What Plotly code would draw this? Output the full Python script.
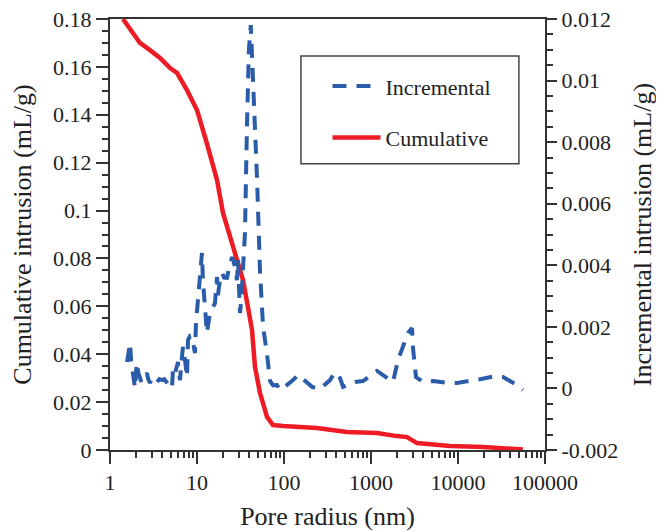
import plotly.graph_objects as go

# Cumulative intrusion (left axis)
cum_x = [1.41, 1.84, 2.21, 2.88, 3.76, 4.9, 5.89, 7.67, 10.0, 13.0, 17.0, 19.9, 25.9, 33.8,
         38.5, 42.9, 46.4, 53.0, 63.8, 74.8, 97.5, 239, 530, 1172, 1990, 2594, 3380, 4400,
         8090, 19370, 55800]
cum_y = [0.180, 0.1741, 0.170, 0.167, 0.1637, 0.1595, 0.1575, 0.1503, 0.142, 0.128, 0.1127,
         0.099, 0.0848, 0.071, 0.0597, 0.0501, 0.0347, 0.0238, 0.0138, 0.0104, 0.0100,
         0.0092, 0.0075, 0.0071, 0.0058, 0.0054, 0.0029, 0.0025, 0.0017, 0.0013, 0.0002]

# Incremental intrusion (right axis)
inc_x = [1.57, 1.65, 1.70, 1.75, 1.79, 1.85, 1.94, 2.0, 2.04, 2.12, 2.21, 2.3, 2.39, 2.5,
         2.66, 2.75, 2.88, 3.0, 3.12, 3.3, 3.47, 3.7, 3.96, 4.2, 4.52, 4.8, 5.16, 5.30, 5.6,
         6.05, 6.2, 6.38, 6.6, 6.90, 7.3, 7.67, 7.88, 8.3, 8.77, 9.1, 9.48, 9.74, 10.3, 10.9,
         11.4, 11.7, 12.4, 13.0, 13.5, 14.1, 15.0, 16.1, 17.0, 17.4, 18.3, 19.4, 20.5, 22.1,
         23.8, 25.3, 27.0, 28.8, 29.6, 30.5, 31.2, 32.3, 32.9, 33.8, 35.6, 37.5, 39.5, 41.5,
         43.5, 46.0, 49.0, 53.0, 55.9, 57.4, 63.8, 69.1, 75.0, 83.2, 90.0, 97.5, 127, 145,
         210, 259, 338, 386, 440, 477, 655, 809, 1172, 1374, 1790, 2043, 2333, 2663, 2958,
         3040, 3290, 3960, 5160, 7480, 9750, 13750, 17900, 26600, 32900, 47700, 55800]
inc_y = [0.00086, 0.0013, 0.00148, 0.0009, 0.0007, 0.0003, 0.00001, 0.0006, 0.00083, 0.0005,
         0.00037, 0.0002, 0.00027, 0.0004, 0.0005, 0.0003, 0.00018, 0.0003, 0.00034, 0.0002,
         0.00021, 0.0003, 0.00027, 0.0003, 0.00021, 0.0001, 0.0, 0.00066, 0.0005, 0.00086,
         0.0005, 0.00027, 0.0008, 0.00135, 0.0009, 0.00037, 0.00157, 0.0017, 0.00167, 0.0013,
         0.00115, 0.00212, 0.00287, 0.0037, 0.0044, 0.00352, 0.00245, 0.0018, 0.0021, 0.00245,
         0.0026, 0.00277, 0.00362, 0.00303, 0.0035, 0.00375, 0.0036, 0.00359, 0.0040, 0.00427,
         0.0040, 0.00352, 0.00417, 0.0033, 0.00245, 0.0029, 0.00342, 0.00417, 0.00505, 0.0085,
         0.0110, 0.0118, 0.0105, 0.0085, 0.0068, 0.0038, 0.00287, 0.00202, 0.00111, 0.00024,
         0.0001, 0.00011, -0.00005, 0.00001, 0.00027, 0.00044, 0.00005, -0.00002, 0.00027,
         0.00053, 0.00034, 0.00005, 0.00021, 0.00024, 0.00057, 0.00044, 0.00021, 0.00092,
         0.00135, 0.0018, 0.00196, 0.00131, 0.00037, 0.00021, 0.00024, 0.00018, 0.00018,
         0.00024, 0.0003, 0.0004, 0.00037, 0.00011, -0.00005]

x_ticks = [1, 10, 100, 1000, 10000, 100000]
x_labels = ["1", "10", "100", "1000", "10000", "100000"]
y1_ticks = [0, 0.02, 0.04, 0.06, 0.08, 0.1, 0.12, 0.14, 0.16, 0.18]
y1_labels = ["0", "0.02", "0.04", "0.06", "0.08", "0.1", "0.12", "0.14", "0.16", "0.18"]
y2_ticks = [-0.002, 0, 0.002, 0.004, 0.006, 0.008, 0.01, 0.012]
y2_labels = ["-0.002", "0", "0.002", "0.004", "0.006", "0.008", "0.01", "0.012"]

x_minor = [m * d for d in [1, 10, 100, 1000, 10000] for m in range(2, 10)]

FONT = "Liberation Serif, Times New Roman, serif"
AX = "#333333"

fig = go.Figure()
fig.add_trace(go.Scatter(x=cum_x, y=cum_y, mode="lines", name="Cumulative",
                         line=dict(color="#ed1c24", width=4.5), legendrank=2,
                         legendgroup="c", yaxis="y"))
fig.add_trace(go.Scatter(x=inc_x, y=inc_y, mode="lines", name="Incremental",
                         line=dict(color="#2a5caa", width=4, dash="14px,10px"),
                         legendrank=1, legendgroup="i", yaxis="y2"))

# the page adds an 8px body margin, so the figure is 8px smaller and margins compensate
fig.update_layout(
    width=656, height=524,
    margin=dict(l=102, r=119, t=11, b=82, autoexpand=False),
    paper_bgcolor="white", plot_bgcolor="white",
    font=dict(family=FONT, size=22, color="#222222"),
    showlegend=True,
    legend=dict(x=0.5, y=0.893, xanchor="left", yanchor="top",
                bgcolor="rgba(0,0,0,0)", font=dict(size=22, family=FONT),
                traceorder="grouped", itemwidth=48, tracegroupgap=20),
    xaxis=dict(type="log", range=[0, 5], tickvals=x_ticks, ticktext=x_labels,
               ticks="outside", ticklen=12, tickwidth=1.5, tickcolor=AX,
               showline=True, linecolor=AX, linewidth=2, mirror=True,
               showgrid=False, zeroline=False, automargin=False,
               ticklabeloverflow="allow",
               minor=dict(tickvals=x_minor, ticks="outside", ticklen=6,
                          tickwidth=1.5, tickcolor=AX, showgrid=False),
               title=dict(text="Pore radius (nm)", standoff=12)),
    yaxis=dict(range=[0, 0.18], tickvals=y1_ticks, ticktext=y1_labels,
               ticks="outside", ticklen=12, tickwidth=1.5, tickcolor=AX,
               showline=True, linecolor=AX, linewidth=2,
               showgrid=False, zeroline=False, automargin=False,
               ticklabeloverflow="allow",
               minor=dict(dtick=0.005, ticks="outside", ticklen=6,
                          tickwidth=1.5, tickcolor=AX, showgrid=False),
               title=dict(text="Cumulative intrusion (mL/g)", standoff=28)),
    yaxis2=dict(range=[-0.002, 0.012], overlaying="y", side="right",
                tickvals=y2_ticks, ticktext=y2_labels,
                ticks="outside", ticklen=10, tickwidth=1.5, tickcolor=AX,
                showline=True, linecolor=AX, linewidth=2,
                showgrid=False, zeroline=False, automargin=False,
                ticklabeloverflow="allow",
                minor=dict(dtick=0.0005, tick0=0, ticks="outside", ticklen=6,
                           tickwidth=1.5, tickcolor=AX, showgrid=False),
                title=dict(text="Incremental intrusion (mL/g)", standoff=16)),
)

fig.add_shape(type="rect", xref="paper", yref="paper",
              x0=0.439, x1=0.940, y0=0.664, y1=0.914,
              line=dict(color="#444444", width=1.5), fillcolor="rgba(0,0,0,0)")

fig.write_html("out.html")
